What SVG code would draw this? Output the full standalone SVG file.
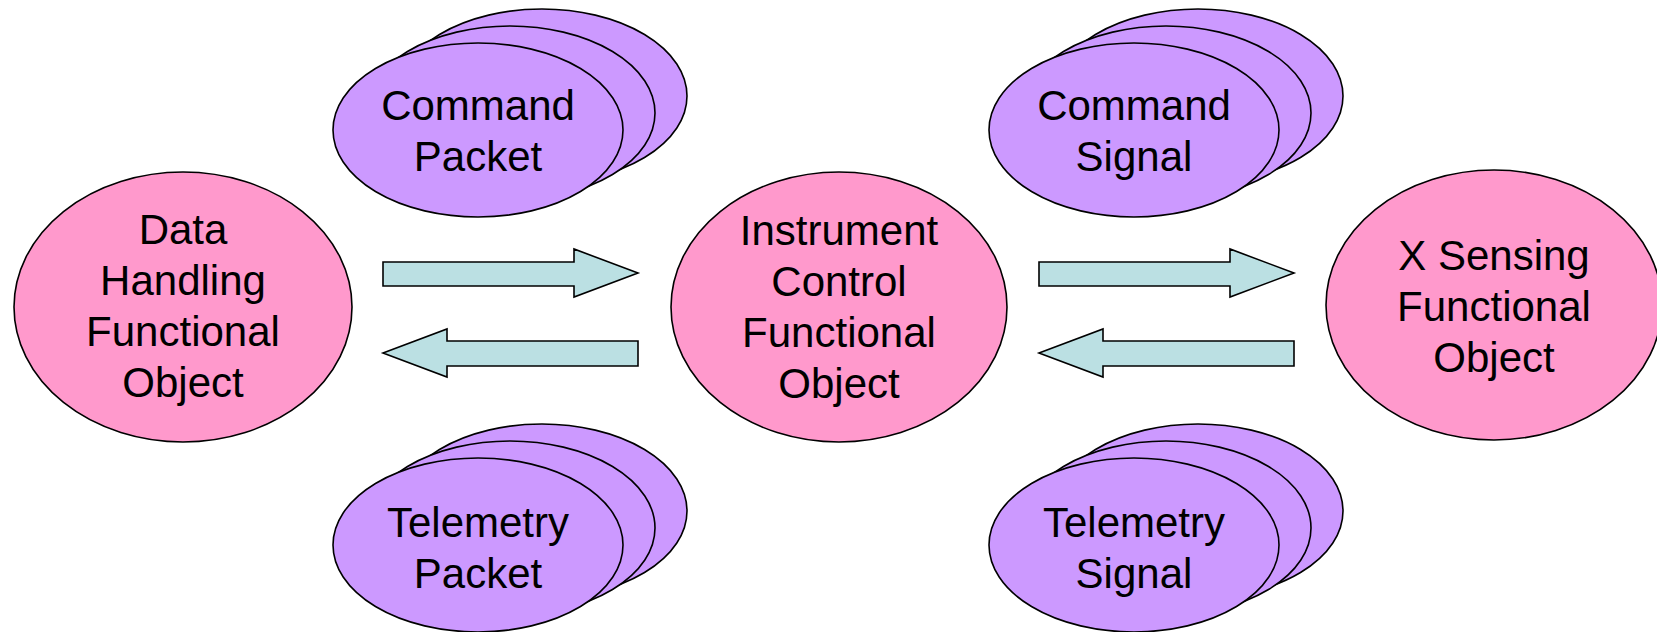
<svg xmlns="http://www.w3.org/2000/svg" width="1657" height="632" viewBox="0 0 1657 632">
  <style>
    .obj { fill: #FF99CC; stroke: #000; stroke-width: 1.6; }
    .msg { fill: #CC99FF; stroke: #000; stroke-width: 1.6; }
    .flow { fill: #BBE0E3; stroke: #000; stroke-width: 1.6; stroke-linejoin: miter; }
    text { font-family: "Liberation Sans", Arial, sans-serif; font-size: 42px; fill: #000; text-anchor: middle; }
  </style>
  <defs>
    <!-- stack of three message ellipses, front one centred at (0,0) -->
    <g id="stack">
      <ellipse class="msg" cx="64" cy="-34" rx="145" ry="87"/>
      <ellipse class="msg" cx="32" cy="-17" rx="145" ry="87"/>
      <ellipse class="msg" cx="0" cy="0" rx="145" ry="87"/>
    </g>
  </defs>

  <rect width="1657" height="632" fill="#fff"/>

  <g id="data-handling">
    <ellipse class="obj" cx="183" cy="307" rx="169" ry="135"/>
    <text x="183" y="244">Data</text>
    <text x="183" y="295">Handling</text>
    <text x="183" y="346">Functional</text>
    <text x="183" y="397">Object</text>
  </g>

  <g id="instrument-control">
    <ellipse class="obj" cx="839" cy="307" rx="168" ry="135"/>
    <text x="839" y="245">Instrument</text>
    <text x="839" y="296">Control</text>
    <text x="839" y="347">Functional</text>
    <text x="839" y="398">Object</text>
  </g>

  <g id="x-sensing">
    <ellipse class="obj" cx="1494" cy="305" rx="168" ry="135"/>
    <text x="1494" y="270">X Sensing</text>
    <text x="1494" y="321">Functional</text>
    <text x="1494" y="372">Object</text>
  </g>

  <g id="command-packet">
    <use href="#stack" x="478" y="130"/>
    <text x="478" y="120">Command</text>
    <text x="478" y="171">Packet</text>
  </g>

  <g id="telemetry-packet">
    <use href="#stack" x="478" y="545"/>
    <text x="478" y="537">Telemetry</text>
    <text x="478" y="588">Packet</text>
  </g>

  <g id="command-signal">
    <use href="#stack" x="1134" y="130"/>
    <text x="1134" y="120">Command</text>
    <text x="1134" y="171">Signal</text>
  </g>

  <g id="telemetry-signal">
    <use href="#stack" x="1134" y="545"/>
    <text x="1134" y="537">Telemetry</text>
    <text x="1134" y="588">Signal</text>
  </g>

  <g id="connectors">
    <!-- left pair: Data Handling <-> Instrument Control -->
    <path class="flow" d="M383,262 H574 V249 L638,273 L574,297 V286 H383 Z"/>
    <path class="flow" d="M638,341 H447 V329 L383,353 L447,377 V366 H638 Z"/>
    <!-- right pair: Instrument Control <-> X Sensing -->
    <path class="flow" d="M1039,262 H1230 V249 L1294,273 L1230,297 V286 H1039 Z"/>
    <path class="flow" d="M1294,341 H1103 V329 L1039,353 L1103,377 V366 H1294 Z"/>
  </g>
</svg>
